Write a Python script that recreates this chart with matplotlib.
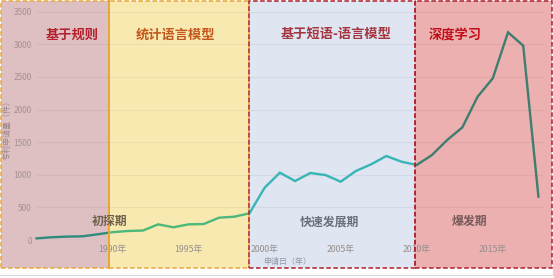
import matplotlib
matplotlib.use("Agg")
import matplotlib.pyplot as plt
from matplotlib.patches import Rectangle
from matplotlib.lines import Line2D

plt.rcParams['font.family'] = ['Noto Sans CJK SC', 'DejaVu Sans']

# ---- data ----
years = list(range(1985, 2019))
counts = [25, 42, 52, 56, 87, 120, 138, 145, 240, 195,
          240, 245, 342, 357, 409, 802, 1032, 904, 1027, 996,
          894, 1058, 1160, 1288, 1200, 1150, 1303, 1533, 1727, 2197,
          2479, 3184, 2979, 664]
xtick_years = [1990, 1995, 2000, 2005, 2010, 2015]
xtick_labels = [f"{y}年" for y in xtick_years]
yticks = [0, 500, 1000, 1500, 2000, 2500, 3000, 3500]

tech_titles = ["基于规则", "统计语言模型", "基于短语-语言模型", "深度学习"]
stage_titles = ["初探期", "", "快速发展期", "爆发期"]

W, H = 554, 278
fig = plt.figure(figsize=(W / 100, H / 100), dpi=100)
fig.patch.set_facecolor('white')

def fx(px):
    return px / W

def fy(py):
    return 1 - py / H

# regions: (x0, x1) in pixels, fill, edge, line colour, title colour
regions = [
    (1, 109, '#dfc0c2', '#e8a838', '#2f8c7c', '#b3202c'),
    (109, 249, '#f7e9b0', '#e8a838', '#4cb87a', '#c4571c'),
    (249, 415, '#dfe5f1', '#b0202e', '#38b5b5', '#a3363f'),
    (415, 551.5, '#ebb0af', '#b0202e', '#3f7d70', '#c00f1a'),
]
ytop, ybot = 1, 267.5

# background fills
for x0, x1, fc, ec, lc, tc in regions:
    r = Rectangle((fx(x0), fy(ybot)), fx(x1) - fx(x0), fy(ytop) - fy(ybot),
                  transform=fig.transFigure, facecolor=fc, edgecolor='none', zorder=-2)
    fig.add_artist(r)

# outer light frame line at bottom
fig.add_artist(Line2D([0, fx(553)], [fy(275), fy(275)], transform=fig.transFigure,
                      color='#d8d8d8', lw=0.8, zorder=-1))
fig.add_artist(Line2D([fx(553), fx(553)], [fy(275), 1], transform=fig.transFigure,
                      color='#d8d8d8', lw=0.8, zorder=-1))

# main axes
left, right = 36.5, 543.7
ax = fig.add_axes([fx(left), fy(240), fx(right) - fx(left), fy(11.7) - fy(240)])
ax.set_facecolor('none')
x_lo = 1985
x_hi = 1985 + (right - left) / 15.21
ax.set_xlim(x_lo, x_hi)
ax.set_ylim(0, 3500)
for s in ax.spines.values():
    s.set_visible(False)
ax.set_yticks(yticks)
ax.set_yticklabels([str(v) for v in yticks])
ax.set_xticks(xtick_years)
ax.set_xticklabels(xtick_labels)
ax.tick_params(axis='both', length=0)
ax.tick_params(axis='y', pad=3.5, labelcolor='#a39292', labelsize=6)
ax.tick_params(axis='x', pad=3.5, labelcolor='#958e8e', labelsize=6.3)
for v in yticks[1:]:
    ax.axhline(v, color='#000000', alpha=0.05, lw=0.8, zorder=1)
ax.axhline(0, color='#000000', alpha=0.12, lw=0.8, zorder=1)

# data line, coloured per region via clipping
for x0, x1, fc, ec, lc, tc in regions:
    clip = Rectangle((fx(x0), fy(ybot)), fx(x1) - fx(x0), fy(ytop) - fy(ybot),
                     transform=fig.transFigure, facecolor='none', edgecolor='none')
    ln, = ax.plot(years, counts, color=lc, lw=1.7, zorder=3, solid_joinstyle='miter')
    ln.set_clip_path(clip)

# region borders
dash = (0, (3, 1.6))
for x0, x1, fc, ec, lc, tc in regions:
    r = Rectangle((fx(x0), fy(ybot)), fx(x1) - fx(x0), fy(ytop) - fy(ybot),
                  transform=fig.transFigure, facecolor='none', edgecolor=ec,
                  lw=1.1, linestyle=dash, zorder=5)
    fig.add_artist(r)
fig.add_artist(Line2D([fx(109), fx(109)], [fy(ybot), fy(ytop)], transform=fig.transFigure,
                      color='#e8a838', lw=1.4, zorder=6))

# region titles
title_pos = [(72, 35), (175, 35), (336.5, 33.5), (455, 35.5)]
for (px, py), t, reg in zip(title_pos, tech_titles, regions):
    fig.text(fx(px), fy(py), t, ha='center', va='center', fontsize=9.5,
             fontweight='bold', color=reg[5], zorder=7)

# stage titles
stage_pos = [(109.5, 221.7), None, (329, 221.7), (469.5, 221.7)]
stage_cols = ['#6e604e', None, '#6a707c', '#785a5a']
for pos, t, c in zip(stage_pos, stage_titles, stage_cols):
    if pos is None or not t:
        continue
    fig.text(fx(pos[0]), fy(pos[1]), t, ha='center', va='center', fontsize=8.6,
             fontweight='bold', color=c, zorder=7)

# axis titles
fig.text(fx(7.5), fy(128), "专利申请量（件）", rotation=90, ha='center', va='center',
         fontsize=5.8, color='#9c8686', zorder=7)
fig.text(fx(287), fy(261.5), "申请日（年）", ha='center', va='center',
         fontsize=5.8, color='#8e97a8', zorder=7)

fig.savefig("out.png", dpi=100, facecolor='white')
